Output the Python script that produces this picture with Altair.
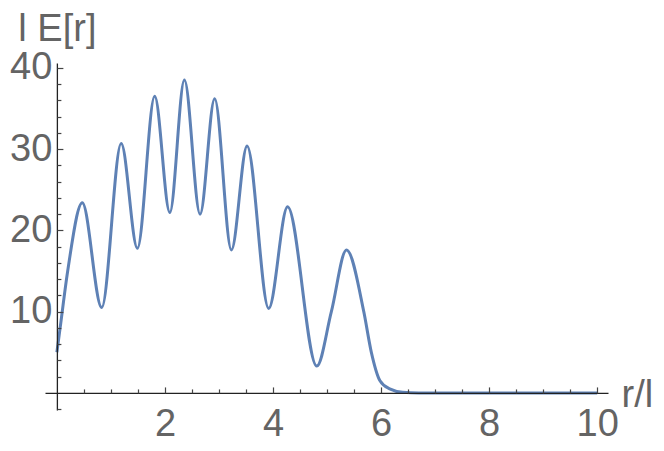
import altair as alt
import pandas as pd

# curve samples (r/l, l E[r])
r_vals = [0.0, 0.06, 0.2, 0.47, 0.83, 1.19, 1.49, 1.81, 2.09, 2.36, 2.65, 2.92,
          3.23, 3.52, 3.92, 4.27, 4.81, 5.08, 5.36, 5.68, 5.82, 5.98, 6.16, 6.4,
          6.7, 10.0]
e_vals = [5.0, 8.0, 15.0, 23.4, 10.5, 30.7, 17.8, 36.5, 22.2, 38.5, 22.0, 36.2,
          17.6, 30.4, 10.4, 22.9, 3.3, 10.0, 17.6, 10.0, 5.0, 1.5, 0.5, 0.08,
          0.0, 0.0]

x_labels = [2, 4, 6, 8, 10]
x_ticks = [0.5, 1, 1.5, 2, 2.5, 3, 3.5, 4, 4.5, 5, 5.5, 6, 6.5, 7, 7.5, 8, 8.5,
           9, 9.5, 10]
y_labels = [10, 20, 30, 40]
y_ticks = [-2, 2, 4, 6, 8, 10, 12, 14, 16, 18, 20, 22, 24, 26, 28, 30, 32, 34,
           36, 38, 40]

df = pd.DataFrame({"r": r_vals, "E": e_vals})

FONT = "Liberation Sans"
GRAY = "#646464"
FS = 38
W, H = 563, 347
XDOM = [-0.22, 10.2]
YDOM = [-2.1, 40.6]
x0_px = W * (0 - XDOM[0]) / (XDOM[1] - XDOM[0])
y0_px = H * (YDOM[1] - 0) / (YDOM[1] - YDOM[0])

xs = alt.Scale(domain=XDOM, nice=False, zero=False)
ys = alt.Scale(domain=YDOM, nice=False, zero=False)

main = alt.Chart(df).mark_line(
    color="#5E81B5", strokeWidth=3, interpolate="monotone"
).encode(
    x=alt.X("r:Q", scale=xs, axis=alt.Axis(
        orient="bottom", offset=-(H - y0_px), values=x_labels, ticks=False,
        tickSize=0, labelPadding=13, labelFont=FONT, labelFontSize=FS,
        labelColor=GRAY, labelFlush=False, labelOverlap=False,
        domainColor="#222222", domainWidth=1.3, grid=False, zindex=1,
        title="r/l", titleX=576, titleY=14, titleAlign="left",
        titleBaseline="alphabetic", titleFont=FONT, titleFontSize=FS,
        titleFontWeight="normal", titleColor=GRAY)),
    y=alt.Y("E:Q", scale=ys, axis=alt.Axis(
        orient="left", offset=-x0_px, values=y_labels, ticks=False,
        tickSize=0, labelPadding=5, labelFont=FONT, labelFontSize=FS,
        labelColor=GRAY, labelFlush=False, labelOverlap=False,
        domainColor="#222222", domainWidth=1.3, grid=False, zindex=1,
        title="l E[r]", titleAngle=0, titleX=0, titleY=-23,
        titleAlign="center", titleBaseline="alphabetic", titleFont=FONT,
        titleFontSize=FS, titleFontWeight="normal", titleColor=GRAY)),
)

ticks = alt.Chart(df).mark_line(strokeOpacity=0).encode(
    x=alt.X("r:Q", scale=xs, axis=alt.Axis(
        orient="top", offset=-y0_px, values=x_ticks, labels=False,
        domain=False, grid=False, tickColor="#444444", tickWidth=1.2,
        zindex=1, title="",
        tickSize={"condition": {"test": "datum.value % 2 === 0", "value": 6},
                  "value": 4})),
    y=alt.Y("E:Q", scale=ys, axis=alt.Axis(
        orient="right", offset=-(W - x0_px), values=y_ticks, labels=False,
        domain=False, grid=False, tickColor="#444444", tickWidth=1.2,
        zindex=1, title="",
        tickSize={"condition": {"test": "datum.value % 10 === 0", "value": 6},
                  "value": 4})),
)

chart = alt.layer(main, ticks).resolve_axis(
    x="independent", y="independent"
).properties(
    width=W, height=H,
    autosize=alt.AutoSizeParams(type="none"),
    padding={"left": 37, "top": 55, "right": 48, "bottom": 33},
    background="white",
).configure_view(stroke=None)

chart.save("out.html", embed_options={"renderer": "svg", "actions": False})
